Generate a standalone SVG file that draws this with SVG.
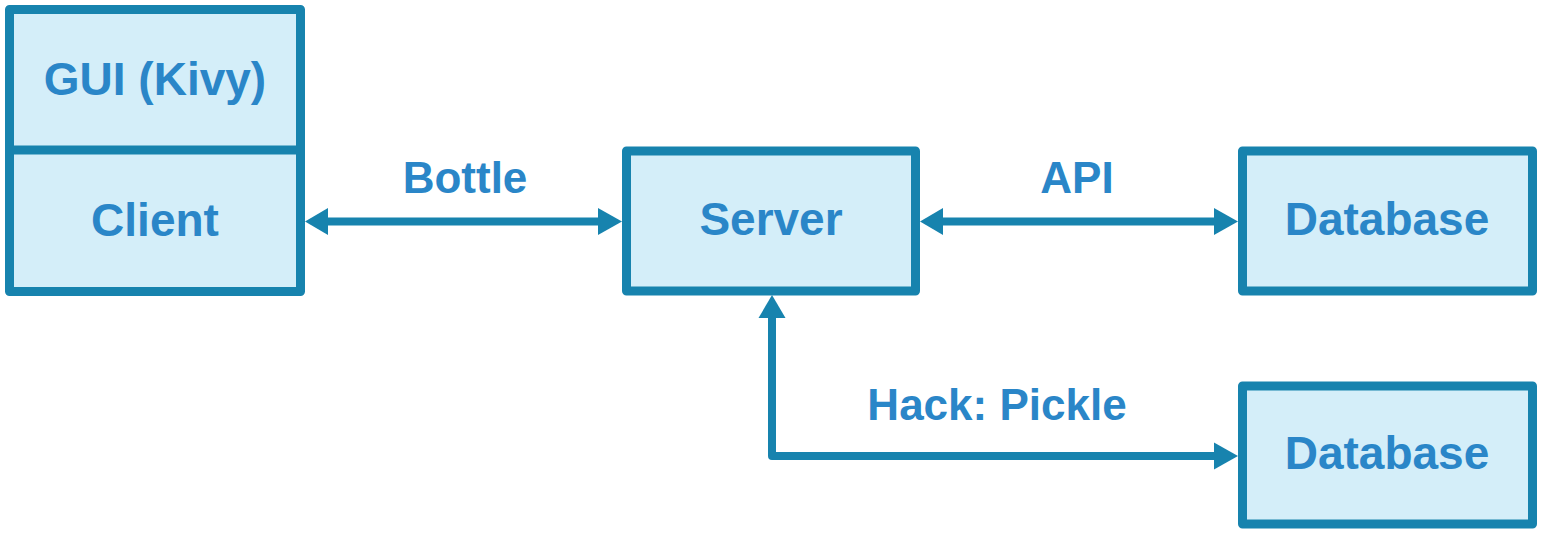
<svg xmlns="http://www.w3.org/2000/svg" width="1545" height="537" viewBox="0 0 1545 537">
<style>
.box{fill:#d4eef9;stroke:#1783ae;stroke-width:9;stroke-linejoin:round}
.ln{fill:none;stroke:#1783ae;stroke-width:8;stroke-linejoin:round}
.ah{fill:#1783ae}
text{font-family:"Liberation Sans",Arial,sans-serif;font-weight:bold;fill:#2a86c8;text-anchor:middle;font-size:46px}
.lbl{font-size:44px}
</style>
<rect width="1545" height="537" fill="#ffffff"/>
<g id="client">
<rect class="box" x="9.5" y="9.5" width="291" height="282"/>
<line x1="9.5" y1="150" x2="300.5" y2="150" stroke="#1783ae" stroke-width="9"/>
<text x="155" y="95">GUI (Kivy)</text>
<text x="155" y="236">Client</text>
</g>
<g id="server">
<rect class="box" x="626.5" y="151" width="289" height="140"/>
<text x="771" y="235">Server</text>
</g>
<g id="database1">
<rect class="box" x="1242.5" y="151" width="290" height="140"/>
<text x="1387" y="235">Database</text>
</g>
<g id="database2">
<rect class="box" x="1242.5" y="386" width="290" height="138"/>
<text x="1387" y="469">Database</text>
</g>
<g id="connectors">
<line class="ln" x1="325" y1="221.5" x2="602" y2="221.5"/>
<polygon class="ah" points="305,221.5 328,208 328,235"/>
<polygon class="ah" points="622,221.5 598,208 598,235"/>
<text class="lbl" x="465" y="193">Bottle</text>
<line class="ln" x1="940" y1="221.5" x2="1218" y2="221.5"/>
<polygon class="ah" points="920,221.5 943,208 943,235"/>
<polygon class="ah" points="1238,221.5 1214,208 1214,235"/>
<text class="lbl" x="1077" y="193">API</text>
<polyline class="ln" points="772,315 772,456 1218,456"/>
<polygon class="ah" points="772,295 758.5,318 785.5,318"/>
<polygon class="ah" points="1238,456 1214,442.5 1214,469.5"/>
<text class="lbl" x="997" y="420">Hack: Pickle</text>
</g>
</svg>
